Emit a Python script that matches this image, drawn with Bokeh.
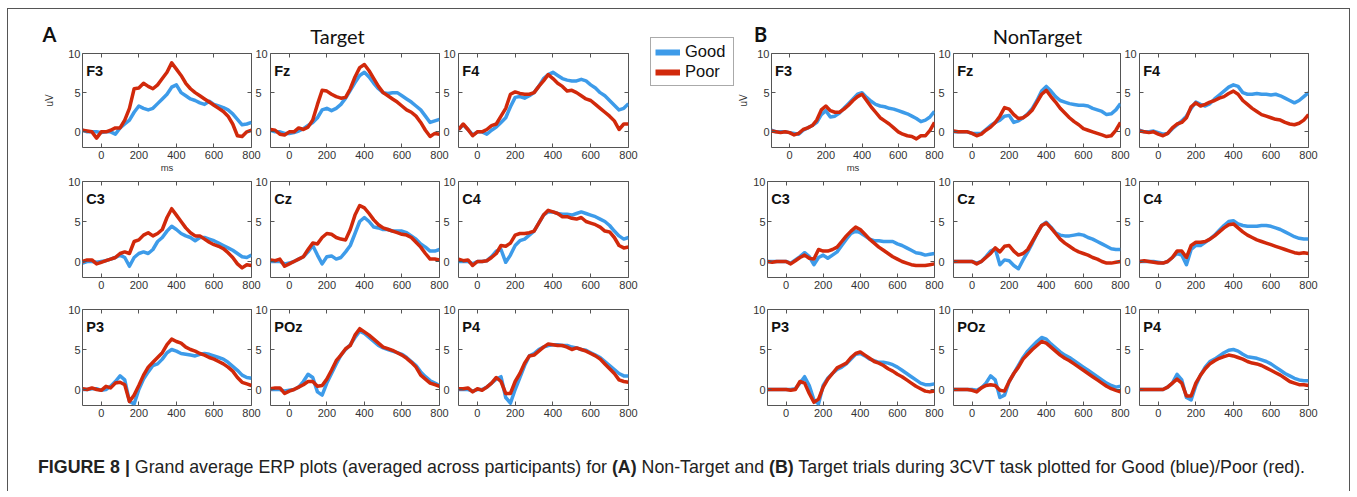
from math import pi
import numpy as np
from bokeh.plotting import figure
from bokeh.layouts import row, column
from bokeh.models import Range1d, FixedTicker, LinearAxis, Label, Legend, LegendItem, Div
from bokeh.embed import file_html
from bokeh.resources import INLINE

# ---------------- data ----------------
TIMES = list(range(-100, 801, 25))
X_TICKS = [0, 200, 400, 600, 800]
Y_TICKS = [0, 5, 10]
CHANNELS = [["F3", "Fz", "F4"], ["C3", "Cz", "C4"], ["P3", "POz", "P4"]]

# Target, Good (blue)
tg_F3 = [0.2, 0.0, 0.0, 0.0, -0.1, 0.0, 0.0, -0.3, 0.5, 1.0, 1.5, 2.5, 3.3, 3.0, 2.8, 3.0, 3.6, 4.2, 4.8, 5.7, 6.0, 5.0, 4.6, 4.2, 4.0, 3.7, 3.5, 3.9, 3.5, 3.3, 3.1, 2.8, 2.3, 1.6, 0.9, 1.0, 1.2]
tg_Fz = [0.2, 0.0, 0.0, -0.2, -0.2, -0.1, 0.1, 0.4, 0.8, 1.2, 1.8, 2.8, 3.0, 2.7, 3.0, 3.5, 4.3, 5.3, 6.3, 7.2, 7.6, 7.0, 6.2, 5.5, 5.0, 4.9, 5.0, 5.0, 4.6, 4.2, 3.8, 3.3, 2.8, 2.0, 1.2, 1.4, 1.6]
tg_F4 = [0.3, 0.9, 0.3, -0.4, 0.0, 0.0, -0.3, 0.2, 0.6, 1.2, 1.8, 3.2, 4.4, 4.5, 4.3, 4.6, 5.0, 5.8, 6.8, 7.3, 7.6, 7.2, 6.8, 6.6, 6.5, 6.5, 6.7, 6.5, 6.0, 5.6, 5.0, 4.6, 4.0, 3.4, 2.8, 3.0, 3.6]
tg_C3 = [-0.2, 0.0, 0.0, -0.1, 0.0, 0.1, 0.3, 0.5, 0.8, 0.5, -0.6, 0.5, 1.0, 1.2, 1.0, 1.5, 2.5, 3.0, 3.8, 4.4, 4.0, 3.5, 3.2, 3.0, 2.6, 3.0, 3.0, 2.8, 2.6, 2.3, 2.0, 1.7, 1.4, 1.0, 0.6, 0.5, 0.8]
tg_Cz = [0.0, 0.0, 0.0, -0.3, -0.2, 0.0, 0.3, 0.6, 1.2, 2.0, 0.8, -0.3, 0.6, 0.7, 0.3, 0.5, 1.2, 2.0, 3.5, 5.0, 5.5, 5.0, 4.3, 4.2, 4.0, 4.0, 3.8, 3.8, 3.8, 3.6, 3.2, 2.8, 2.2, 1.8, 1.3, 1.3, 1.5]
tg_C4 = [0.0, 0.0, 0.0, -0.3, 0.0, 0.0, 0.1, 0.6, 1.3, 1.5, -0.1, 0.8, 2.0, 2.6, 2.8, 3.3, 3.8, 4.8, 5.8, 6.2, 6.2, 6.0, 5.9, 5.9, 5.8, 6.0, 6.2, 6.0, 5.8, 5.6, 5.3, 5.0, 4.5, 3.8, 3.2, 2.8, 3.0]
tg_P3 = [0.0, 0.0, 0.1, 0.1, -0.1, 0.0, 0.4, 1.0, 1.7, 1.2, -1.5, -1.8, 0.0, 1.3, 2.2, 3.0, 3.2, 3.8, 4.6, 5.0, 4.8, 4.5, 4.4, 4.3, 4.2, 4.4, 4.5, 4.4, 4.2, 4.0, 3.8, 3.4, 2.9, 2.4, 1.8, 1.5, 1.4]
tg_POz = [0.0, 0.0, 0.0, -0.2, -0.1, 0.0, 0.3, 1.0, 1.9, 1.5, -0.3, -0.7, 0.8, 2.0, 3.2, 4.3, 5.0, 5.6, 6.5, 7.3, 7.0, 6.5, 6.0, 5.5, 5.2, 5.0, 4.8, 4.6, 4.4, 4.0, 3.5, 3.0, 2.2, 1.6, 1.1, 0.8, 0.5]
tg_P4 = [0.0, 0.0, 0.0, -0.2, 0.0, 0.0, 0.3, 0.8, 1.3, 1.6, -1.0, -1.7, 0.0, 1.5, 3.0, 4.2, 4.5, 5.0, 5.3, 5.5, 5.6, 5.6, 5.5, 5.5, 5.3, 5.2, 5.0, 4.9, 4.6, 4.3, 4.0, 3.5, 3.0, 2.5, 2.0, 1.7, 1.7]

# Target, Poor (red)
tp_F3 = [0.2, 0.1, 0.0, -0.8, 0.0, 0.0, 0.2, 0.5, 0.5, 1.5, 3.0, 5.5, 5.6, 6.2, 5.8, 5.5, 6.0, 6.8, 7.6, 8.8, 8.0, 7.2, 6.2, 5.5, 5.0, 4.6, 4.2, 3.8, 3.4, 3.0, 2.6, 2.0, 1.0, -0.5, -0.6, 0.0, 0.2]
tp_Fz = [0.3, 0.2, -0.3, -0.4, 0.0, 0.0, 0.5, 0.3, 0.6, 1.5, 3.5, 5.3, 5.2, 4.8, 4.5, 4.3, 4.4, 5.5, 7.0, 8.2, 8.6, 7.8, 6.8, 5.8, 5.0, 4.6, 4.2, 3.8, 3.3, 2.8, 2.5, 2.0, 1.2, 0.2, -0.6, -0.2, -0.3]
tp_F4 = [0.3, 1.0, 0.3, -0.5, 0.0, 0.0, 0.3, 0.8, 1.0, 2.0, 3.0, 4.8, 5.1, 4.9, 4.8, 4.8, 5.0, 5.8, 6.5, 7.3, 6.8, 6.2, 5.8, 5.2, 5.3, 5.0, 4.6, 4.2, 4.0, 3.5, 3.0, 2.5, 2.0, 1.4, 0.3, 1.0, 1.0]
tp_C3 = [0.0, 0.2, 0.2, -0.3, -0.1, 0.1, 0.3, 0.5, 1.0, 1.2, 1.0, 2.5, 2.7, 3.3, 3.6, 3.2, 3.5, 4.0, 5.5, 6.6, 5.8, 5.0, 4.2, 3.6, 3.2, 3.2, 2.8, 2.4, 2.1, 1.9, 1.6, 1.1, 0.5, -0.3, -0.8, -0.4, -0.5]
tp_Cz = [0.2, 0.1, 0.3, -0.6, -0.3, 0.0, 0.3, 0.6, 1.5, 2.3, 2.2, 3.0, 3.5, 3.4, 3.0, 2.8, 2.7, 4.0, 5.8, 7.0, 6.7, 6.0, 5.2, 4.6, 4.2, 4.0, 3.8, 3.6, 3.4, 3.3, 3.0, 2.4, 1.8, 1.0, 0.3, 0.3, 0.2]
tp_C4 = [0.3, 0.1, 0.2, -0.5, 0.0, 0.0, 0.1, 0.5, 1.0, 2.0, 1.9, 2.3, 3.3, 3.5, 3.5, 3.6, 3.8, 4.8, 5.8, 6.4, 6.2, 6.0, 5.6, 5.6, 5.4, 5.3, 5.5, 5.0, 4.8, 4.6, 4.3, 3.8, 3.7, 3.0, 2.0, 1.7, 1.8]
tp_P3 = [0.1, 0.0, 0.2, 0.0, -0.1, 0.4, 0.2, 0.8, 0.9, 0.6, -1.5, -0.7, 0.5, 1.8, 2.8, 3.4, 4.0, 4.6, 5.6, 6.3, 6.0, 5.8, 5.3, 5.0, 4.8, 4.5, 4.3, 4.0, 3.8, 3.5, 3.2, 2.8, 2.3, 1.5, 0.9, 0.7, 0.5]
tp_POz = [0.1, 0.2, 0.2, -0.5, -0.2, 0.0, 0.3, 0.6, 1.0, 1.0, 0.4, 0.5, 1.3, 2.4, 3.6, 4.3, 5.1, 5.5, 6.8, 7.6, 7.2, 6.8, 6.3, 5.8, 5.3, 5.1, 4.9, 4.6, 4.3, 3.9, 3.4, 2.8, 1.8, 1.3, 0.8, 0.6, 0.4]
tp_P4 = [0.1, 0.1, 0.2, -0.3, 0.1, -0.1, 0.3, 0.8, 1.5, 1.0, -0.5, -0.5, 1.0, 2.0, 3.3, 4.2, 4.3, 4.8, 5.3, 5.7, 5.6, 5.5, 5.5, 5.3, 5.0, 5.2, 5.0, 4.8, 4.5, 4.2, 3.8, 3.2, 2.6, 2.0, 1.2, 1.0, 0.9]

# NonTarget, Good (blue)
ng_F3 = [0.2, 0.0, 0.0, 0.0, -0.1, -0.2, -0.3, 0.2, 0.5, 0.8, 1.2, 2.2, 2.7, 1.9, 2.0, 2.4, 3.0, 3.6, 4.2, 4.8, 5.0, 4.4, 3.9, 3.5, 3.3, 3.2, 3.0, 2.9, 2.7, 2.5, 2.3, 2.0, 1.7, 1.3, 1.5, 1.9, 2.6]
ng_Fz = [0.0, 0.0, 0.0, 0.0, -0.2, -0.2, -0.2, 0.3, 0.8, 1.2, 1.5, 2.0, 2.1, 1.2, 1.4, 1.8, 2.3, 3.0, 4.0, 5.2, 5.8, 5.2, 4.5, 4.0, 3.8, 3.6, 3.5, 3.4, 3.4, 3.3, 3.0, 2.8, 2.6, 2.2, 2.3, 2.8, 3.6]
ng_F4 = [0.2, 0.0, 0.0, 0.1, -0.1, -0.3, -0.2, 0.4, 0.9, 1.4, 2.0, 3.0, 3.8, 3.5, 3.3, 3.6, 4.2, 4.7, 5.2, 5.7, 6.0, 5.8, 5.0, 4.8, 4.8, 4.9, 4.8, 4.8, 4.7, 4.8, 4.6, 4.3, 4.0, 3.7, 4.0, 4.5, 5.0]
ng_C3 = [0.0, 0.0, 0.0, 0.0, 0.0, -0.2, 0.2, 0.6, 1.1, 0.6, -0.4, 0.5, 0.8, 0.4, 0.8, 1.2, 2.0, 2.8, 3.5, 3.8, 3.6, 3.2, 2.8, 2.6, 2.6, 2.5, 2.5, 2.5, 2.2, 2.0, 1.7, 1.4, 1.1, 1.0, 0.8, 0.9, 1.0]
ng_Cz = [0.0, 0.0, 0.0, 0.0, 0.0, -0.2, 0.0, 0.6, 1.3, 1.6, -0.4, 0.2, 0.1, -0.5, -0.9, 0.2, 1.2, 2.3, 3.5, 4.5, 4.9, 4.3, 3.6, 3.3, 3.2, 3.2, 3.3, 3.4, 3.3, 3.0, 2.8, 2.5, 2.2, 1.9, 1.6, 1.5, 1.5]
ng_C4 = [0.0, 0.0, 0.0, 0.0, -0.1, -0.2, 0.0, 0.5, 1.0, 0.8, -0.4, 1.5, 2.0, 2.0, 2.4, 2.8, 3.3, 3.9, 4.5, 5.0, 5.1, 4.7, 4.5, 4.4, 4.4, 4.4, 4.5, 4.5, 4.4, 4.2, 4.0, 3.7, 3.4, 3.1, 2.9, 2.8, 2.8]
ng_P3 = [0.0, 0.0, 0.0, 0.0, 0.0, 0.0, 0.1, 0.8, 1.6, 0.5, -1.3, -1.8, 0.5, 1.4, 2.0, 2.5, 2.8, 3.2, 3.8, 4.4, 4.5, 4.2, 3.8, 3.6, 3.4, 3.4, 3.3, 3.1, 2.8, 2.4, 2.0, 1.6, 1.2, 0.8, 0.6, 0.6, 0.7]
ng_POz = [0.0, 0.0, 0.0, 0.0, 0.0, -0.1, 0.2, 0.8, 1.7, 1.2, -1.0, -0.7, 1.0, 2.0, 3.0, 4.0, 4.8, 5.4, 6.0, 6.5, 6.3, 5.7, 5.2, 4.7, 4.3, 4.0, 3.6, 3.2, 2.8, 2.4, 2.0, 1.6, 1.2, 0.8, 0.5, 0.3, 0.4]
ng_P4 = [0.0, 0.0, 0.0, 0.0, 0.0, 0.0, 0.3, 0.8, 1.9, 1.2, -1.0, -1.3, 0.5, 1.8, 2.8, 3.5, 3.8, 4.2, 4.6, 4.9, 5.0, 4.8, 4.4, 4.1, 4.0, 3.9, 3.7, 3.5, 3.2, 2.8, 2.4, 2.0, 1.7, 1.4, 1.2, 1.1, 1.1]

# NonTarget, Poor (red)
np_F3 = [0.1, 0.0, -0.1, 0.0, -0.1, -0.4, -0.2, 0.3, 0.5, 0.8, 1.5, 2.8, 3.3, 2.7, 2.5, 2.5, 2.9, 3.4, 4.0, 4.5, 4.8, 4.0, 3.2, 2.5, 1.8, 1.4, 1.0, 0.5, 0.0, -0.3, -0.5, -0.6, -0.9, -0.5, -0.5, 0.2, 1.2]
np_Fz = [0.1, 0.0, 0.0, 0.0, -0.2, -0.5, -0.3, 0.2, 0.6, 1.2, 2.0, 3.1, 2.9, 2.2, 1.7, 1.8, 2.2, 2.8, 3.8, 4.8, 5.3, 4.5, 3.8, 3.0, 2.4, 1.8, 1.3, 0.9, 0.4, 0.2, 0.0, -0.2, -0.4, -0.6, -0.5, 0.2, 1.2]
np_F4 = [0.1, 0.0, -0.1, 0.0, -0.3, -0.5, -0.2, 0.5, 1.0, 1.2, 1.8, 3.2, 3.7, 3.3, 3.5, 3.8, 4.0, 4.3, 4.5, 4.9, 5.2, 4.8, 4.0, 3.5, 3.0, 2.6, 2.2, 2.0, 1.8, 1.6, 1.5, 1.2, 1.0, 0.9, 1.1, 1.5, 2.2]
np_C3 = [0.0, -0.1, 0.0, 0.0, 0.0, -0.3, 0.1, 0.5, 0.8, 0.4, 0.3, 1.5, 1.3, 1.3, 1.5, 1.8, 2.5, 3.2, 3.8, 4.3, 4.0, 3.4, 2.8, 2.3, 1.8, 1.4, 1.0, 0.6, 0.3, 0.0, -0.2, -0.4, -0.5, -0.5, -0.5, -0.4, -0.3]
np_Cz = [0.0, 0.0, 0.0, 0.0, 0.0, -0.3, 0.0, 0.5, 1.0, 1.7, 1.2, 1.9, 2.0, 1.3, 0.8, 1.0, 1.5, 2.5, 3.5, 4.5, 4.8, 4.2, 3.5, 2.8, 2.3, 1.9, 1.5, 1.2, 1.0, 0.8, 0.5, 0.3, 0.0, -0.2, -0.2, -0.1, 0.0]
np_C4 = [0.0, 0.1, 0.0, -0.1, -0.2, -0.2, 0.0, 0.5, 1.3, 1.3, 0.5, 2.0, 2.4, 2.4, 2.5, 2.8, 3.2, 3.7, 4.2, 4.6, 4.7, 4.2, 3.7, 3.3, 3.0, 2.7, 2.5, 2.3, 2.1, 1.9, 1.7, 1.5, 1.3, 1.1, 1.0, 1.1, 1.0]
np_P3 = [0.0, 0.0, 0.0, 0.0, 0.0, -0.1, 0.0, 1.0, 0.8, -0.5, -1.6, -1.2, 0.3, 1.3, 2.0, 2.7, 3.0, 3.3, 4.0, 4.5, 4.7, 4.3, 3.9, 3.5, 3.3, 3.0, 2.6, 2.3, 1.9, 1.6, 1.2, 0.8, 0.4, 0.1, -0.2, -0.3, -0.2]
np_POz = [0.0, 0.0, 0.0, 0.0, -0.1, -0.3, 0.2, 0.5, 0.6, 0.5, -0.1, -0.2, 1.0, 2.0, 2.8, 3.8, 4.4, 5.0, 5.5, 6.0, 5.8, 5.3, 4.8, 4.3, 3.9, 3.6, 3.2, 2.8, 2.4, 2.0, 1.6, 1.2, 0.8, 0.4, 0.1, -0.1, -0.3]
np_P4 = [0.0, 0.0, 0.0, 0.0, 0.0, 0.0, 0.3, 0.8, 1.3, 0.8, -0.8, -0.8, 0.8, 1.8, 2.6, 3.2, 3.6, 3.9, 4.1, 4.3, 4.2, 4.0, 3.8, 3.5, 3.3, 3.2, 3.0, 2.7, 2.4, 2.1, 1.8, 1.4, 1.0, 0.8, 0.6, 0.6, 0.5]

target_good = {"F3": tg_F3, "Fz": tg_Fz, "F4": tg_F4, "C3": tg_C3, "Cz": tg_Cz, "C4": tg_C4, "P3": tg_P3, "POz": tg_POz, "P4": tg_P4}
target_poor = {"F3": tp_F3, "Fz": tp_Fz, "F4": tp_F4, "C3": tp_C3, "Cz": tp_Cz, "C4": tp_C4, "P3": tp_P3, "POz": tp_POz, "P4": tp_P4}
nontarget_good = {"F3": ng_F3, "Fz": ng_Fz, "F4": ng_F4, "C3": ng_C3, "Cz": ng_Cz, "C4": ng_C4, "P3": ng_P3, "POz": ng_POz, "P4": ng_P4}
nontarget_poor = {"F3": np_F3, "Fz": np_Fz, "F4": np_F4, "C3": np_C3, "Cz": np_Cz, "C4": np_C4, "P3": np_P3, "POz": np_POz, "P4": np_P4}
for d in (target_good, target_poor, nontarget_good, nontarget_poor):
    for k, v in d.items():
        assert len(v) == len(TIMES), (k, len(v))

# ---------------- style ----------------
BLUE = "#3d9be9"
RED = "#d1290b"
FRAME = "#555555"
TXT = "#333333"
FONT = "Liberation Sans"
FRAME_H = 96
TOP_B = 6
BOT_B = 26


def style_axis(ax, ticks, show, standoff):
    ax.ticker = FixedTicker(ticks=ticks)
    ax.major_tick_in = 4
    ax.major_tick_out = 0
    ax.major_tick_line_color = FRAME
    ax.minor_tick_line_color = None
    ax.axis_line_color = None
    ax.major_label_text_font = FONT
    ax.major_label_text_color = TXT
    if show:
        ax.major_label_text_font_size = "11px"
        ax.major_label_standoff = standoff
    else:
        ax.major_label_text_font_size = "1px"
        ax.major_label_standoff = 0
        ax.major_label_overrides = {t: "" for t in ticks}


def make_sub(ch, good, poor, ci, ri, lb, rb, fw, ylab_standoff):
    p = figure(width=lb + fw + rb, height=TOP_B + FRAME_H + BOT_B,
               x_range=Range1d(-100, 800), y_range=Range1d(-2, 10),
               x_axis_location=None, y_axis_location=None,
               toolbar_location=None, output_backend="svg",
               min_border_left=lb, min_border_right=rb,
               min_border_top=TOP_B, min_border_bottom=BOT_B,
               outline_line_color=FRAME, outline_line_width=1,
               background_fill_color="white", border_fill_color="white")
    p.grid.visible = False
    bottom = LinearAxis(); style_axis(bottom, X_TICKS, True, 3); p.add_layout(bottom, "below")
    ax = LinearAxis(); style_axis(ax, X_TICKS, False, 0); p.add_layout(ax, "above")
    left = LinearAxis(); style_axis(left, Y_TICKS, ci == 0, 2); p.add_layout(left, "left")
    ax = LinearAxis(); style_axis(ax, Y_TICKS, ci < 2, 4); p.add_layout(ax, "right")
    if ci == 0 and ri == 0:
        left.axis_label = "uV"
        left.axis_label_text_font = FONT
        left.axis_label_text_font_size = "10px"
        left.axis_label_text_font_style = "normal"
        left.axis_label_text_color = TXT
        left.axis_label_standoff = ylab_standoff
        bottom.axis_label = "ms"
        bottom.axis_label_text_font = FONT
        bottom.axis_label_text_font_size = "9.5px"
        bottom.axis_label_text_font_style = "normal"
        bottom.axis_label_text_color = TXT
        bottom.axis_label_standoff = 0
    p.line(TIMES, good, line_color=BLUE, line_width=3.5, line_join="round")
    p.line(TIMES, poor, line_color=RED, line_width=3.5, line_join="round")
    p.add_layout(Label(x=-80, y=7.8, text=ch, text_font=FONT, text_font_style="bold",
                       text_font_size="14.5px", text_color="#111111", text_baseline="middle"))
    return p


def make_header(width, letter, letter_x, title, title_x):
    h = figure(width=width, height=38, x_range=Range1d(0, width), y_range=Range1d(0, 38),
               x_axis_location=None, y_axis_location=None, toolbar_location=None,
               output_backend="svg", min_border=0, outline_line_color=None)
    h.grid.visible = False
    h.add_layout(Label(x=letter_x, y=14, text=letter, text_font="Lato", text_font_style="bold",
                       text_font_size="20px", text_color="#111111",
                       text_align="center", text_baseline="middle"))
    h.add_layout(Label(x=title_x, y=12, text=title, text_font="Lato",
                       text_font_size="20px", text_color="#111111",
                       text_align="center", text_baseline="middle"))
    return h


def make_panel(good, poor, lbs, rbs, fw, ylab_standoff):
    rows = []
    for ri, chans in enumerate(CHANNELS):
        figs = [make_sub(ch, good[ch], poor[ch], ci, ri, lbs[ci], rbs[ci], fw, ylab_standoff)
                for ci, ch in enumerate(chans)]
        rows.append(row(*figs))
    return rows


# Panel A (Target)
rows_a = make_panel(target_good, target_poor, [74, 0, 0], [18, 18, 10], 170, 10)
head_a = make_header(630, "A", 41, "Target", 329)
panel_a = column(head_a, *rows_a)

# Panel B (NonTarget)
rows_b = make_panel(nontarget_good, nontarget_poor, [32, 0, 0], [17, 17, 10], 169, 5)
head_b = make_header(583, "B", 25, "NonTarget", 302)
panel_b = column(head_b, *rows_b)

# middle strip holding the legend
MID_H = 38 + 3 * (TOP_B + FRAME_H + BOT_B)
mid = figure(width=97, height=MID_H, x_range=Range1d(0, 97), y_range=Range1d(0, MID_H),
             x_axis_location=None, y_axis_location=None, toolbar_location=None,
             output_backend="svg", min_border=0, outline_line_color=None)
mid.grid.visible = False
r_good = mid.line(x=np.array([np.nan]), y=np.array([np.nan]), line_color=BLUE, line_width=6)
r_poor = mid.line(x=np.array([np.nan]), y=np.array([np.nan]), line_color=RED, line_width=6)
legend = Legend(items=[LegendItem(label="Good", renderers=[r_good]),
                       LegendItem(label="Poor", renderers=[r_poor])],
                location=(12, MID_H - 77), label_text_font=FONT, label_text_font_size="16.5px",
                label_text_color="#111111", glyph_width=25, glyph_height=16, label_height=16,
                label_width=44, label_standoff=5, padding=4, spacing=1, margin=0,
                border_line_color=FRAME, border_line_width=1, background_fill_alpha=1.0)
mid.add_layout(legend)

caption = Div(
    text=('<div style="padding:24px 0 0 30px;font-family:\'Liberation Sans\',Arial,sans-serif;'
          'font-size:17.8px;color:#222;white-space:nowrap;">'
          '<b>FIGURE 8 |</b> Grand average ERP plots (averaged across participants) for '
          '<b>(A)</b> Non-Target and <b>(B)</b> Target trials during 3CVT task plotted for '
          'Good (blue)/Poor (red).</div>'),
    width=1341, height=60, margin=0)

top = row(panel_a, mid, panel_b)
layout = column(top, caption,
                styles={"margin-left": "7px", "margin-top": "8px",
                        "border-left": "1px solid #555", "border-top": "1px solid #555",
                        "border-right": "1px solid #555"})

open("out.html", "w").write(file_html(layout, INLINE))
